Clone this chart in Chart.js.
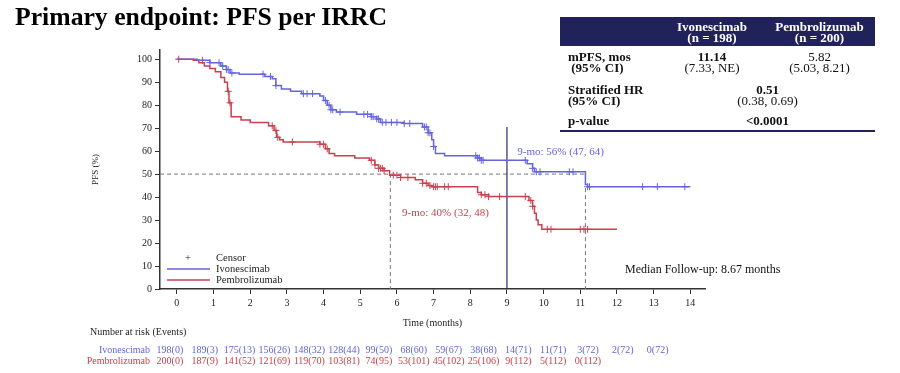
<!DOCTYPE html>
<html>
<head>
<meta charset="utf-8">
<script src="https://cdn.jsdelivr.net/npm/chart.js@4.4.1/dist/chart.umd.min.js"></script>
<style>
    body { margin: 0; background: #fff; font-family: "Liberation Serif", "DejaVu Serif", serif; }
    #wrap { position: relative; width: 900px; height: 373px; overflow: hidden; }
    #pfsChart { position: absolute; left: 0; top: 0; }
    h1 { position: absolute; left: 15px; top: 2px; margin: 0; font-size: 25.7px; font-weight: bold; color: #000; white-space: nowrap; }
    #stats { position: absolute; left: 560px; top: 17px; width: 315px; border-collapse: collapse; font-size: 13px; line-height: 11px; color: #111; table-layout: fixed; }
    #stats th { background: #22225a; color: #fff; font-weight: bold; padding: 4px 0 3px 0; text-align: center; }
    #stats td { padding: 3px 0; vertical-align: top; }
    #stats td.c { text-align: center; }
    #stats tr.last td { border-bottom: 2px solid #22225a; padding-bottom: 4px; }
</style>
</head>
<body>
<div id="wrap">
    <canvas id="pfsChart" width="900" height="373"></canvas>
    <h1>Primary endpoint: PFS per IRRC</h1>
    <table id="stats">
        <tr><th style="width:100px"></th><th style="width:104px">Ivonescimab<br>(n = 198)</th><th style="width:111px">Pembrolizumab<br>(n = 200)</th></tr>
        <tr><td style="padding-left:8px;padding-top:5px"><b>mPFS, mos<br>&nbsp;(95% CI)</b></td><td class="c" style="padding-top:5px"><b>11.14</b><br>(7.33, NE)</td><td class="c" style="padding-top:5px">5.82<br>(5.03, 8.21)</td></tr>
        <tr><td style="padding-left:8px;padding-top:8px"><b>Stratified HR<br>(95% CI)</b></td><td class="c" colspan="2" style="padding-top:8px"><b>0.51</b><br>(0.38, 0.69)</td></tr>
        <tr class="last"><td style="padding-left:8px;padding-top:6px"><b>p-value</b></td><td class="c" colspan="2" style="padding-top:6px"><b>&lt;0.0001</b></td></tr>
    </table>
</div>
<script>
    // Kaplan-Meier steps (time in months, PFS %)
    var ivoTimes = [0, 0.55, 0.9, 1.2, 1.35, 1.45, 1.7, 2.4, 2.6, 2.7, 2.85, 3.1, 3.4, 3.9, 4.0, 4.1, 4.2, 4.35, 4.9, 5.3, 5.45, 5.55, 6.2, 6.7, 6.85, 6.95, 7.0, 7.05, 7.3, 8.2, 8.3, 9.55, 9.7, 9.75, 11.14, 11.2, 14.0];
    var ivoSurv = [100, 99.5, 98.5, 97, 95.5, 94, 93.5, 92.5, 91.5, 88.5, 87, 86, 85, 84, 82, 80, 78, 77, 76, 75, 74, 72.5, 72, 70.5, 68, 65, 62, 59, 58, 57, 56, 54.5, 52.5, 51, 45.5, 44.5, 44.5];
    var pemTimes = [0, 0.45, 0.6, 0.75, 0.9, 1.05, 1.2, 1.3, 1.38, 1.42, 1.48, 1.75, 2.0, 2.5, 2.65, 2.72, 2.8, 2.9, 3.9, 4.05, 4.15, 4.3, 4.85, 5.25, 5.4, 5.5, 5.65, 5.8, 6.1, 6.5, 6.7, 6.85, 6.95, 8.2, 8.3, 8.5, 9.6, 9.7, 9.75, 9.8, 9.85, 9.95, 12.0];
    var pemSurv = [100, 99.5, 98.5, 97, 96, 94.5, 92, 90, 86, 81, 75, 73.5, 72.5, 71, 69, 66, 65, 64, 63, 61, 59, 58, 57, 56, 54, 52.5, 51.5, 49.5, 48.5, 47.5, 46, 45, 44.5, 42, 41, 40.2, 38.5, 36, 33, 30, 28, 26, 26];

    // censor marks (months)
    var ivoCensor = [0.7, 0.9, 1.15, 1.25, 1.35, 1.4, 1.5, 2.35, 2.55, 2.7, 3.45, 3.55, 3.7, 4.05, 4.15, 4.2, 4.25, 4.45, 5.1, 5.2, 5.3, 5.35, 5.45, 5.5, 5.6, 5.7, 5.85, 6.0, 6.2, 6.35, 6.75, 6.8, 6.85, 6.9, 7.0, 8.15, 8.2, 8.25, 8.3, 8.35, 9.5, 9.7, 9.8, 9.9, 10.7, 10.8, 11.2, 11.25, 12.7, 13.1, 13.85];
    var pemCensor = [0.05, 1.4, 1.45, 2.6, 2.7, 2.75, 3.15, 3.9, 4.0, 4.1, 5.3, 5.4, 5.5, 5.55, 5.6, 5.65, 5.9, 6.0, 6.1, 6.3, 6.7, 6.8, 6.9, 7.0, 7.05, 7.1, 7.3, 7.4, 8.3, 8.4, 8.5, 8.8, 9.5, 9.65, 9.7, 10.1, 10.2, 11.0, 11.1, 11.2];

    var xTicks = [0, 1, 2, 3, 4, 5, 6, 7, 8, 9, 10, 11, 12, 13, 14];
    var yTicks = [0, 10, 20, 30, 40, 50, 60, 70, 80, 90, 100];

    // number at risk (events)
    var ivoRisk = ['198(0)', '189(3)', '175(13)', '156(26)', '148(32)', '128(44)', '99(50)', '68(60)', '59(67)', '38(68)', '14(71)', '11(71)', '3(72)', '2(72)', '0(72)'];
    var pemRisk = ['200(0)', '187(9)', '141(52)', '121(69)', '119(70)', '103(81)', '74(95)', '53(101)', '45(102)', '25(106)', '9(112)', '5(112)', '0(112)'];

    var medianIvo = 11.14;
    var medianPem = 5.82;
    var landmark = 9;

    var blue = '#6464dc';
    var red = '#c8414f';
    var serif = '"Liberation Serif", "DejaVu Serif", serif';

    function toPoints(times, vals) {
        var pts = [];
        for (var i = 0; i < times.length; i++) {
            pts.push({ x: times[i], y: vals[i] });
        }
        return pts;
    }

    function survAt(times, vals, t) {
        var v = vals[0];
        for (var i = 0; i < times.length; i++) {
            if (times[i] <= t) { v = vals[i]; }
        }
        return v;
    }

    function censorPoints(cens, times, vals) {
        return cens.map(function (t) { return { x: t, y: survAt(times, vals, t) }; });
    }

    var extrasPlugin = {
        id: 'extras',
        beforeDatasetsDraw: function (chart) {
            var ctx = chart.ctx;
            var xs = chart.scales.x, ys = chart.scales.y;
            ctx.save();
            // median reference lines
            ctx.strokeStyle = '#777';
            ctx.lineWidth = 1;
            ctx.setLineDash([4, 3]);
            ctx.beginPath();
            ctx.moveTo(chart.chartArea.left, ys.getPixelForValue(50));
            ctx.lineTo(xs.getPixelForValue(medianIvo), ys.getPixelForValue(50));
            ctx.moveTo(xs.getPixelForValue(medianPem), ys.getPixelForValue(50));
            ctx.lineTo(xs.getPixelForValue(medianPem), chart.chartArea.bottom);
            ctx.moveTo(xs.getPixelForValue(medianIvo), ys.getPixelForValue(50));
            ctx.lineTo(xs.getPixelForValue(medianIvo), chart.chartArea.bottom);
            ctx.stroke();
            // 9 month landmark
            ctx.setLineDash([]);
            ctx.strokeStyle = '#2b2b6b';
            ctx.lineWidth = 1.2;
            ctx.beginPath();
            ctx.moveTo(xs.getPixelForValue(landmark), ys.getPixelForValue(70.5));
            ctx.lineTo(xs.getPixelForValue(landmark), chart.chartArea.bottom);
            ctx.stroke();
            ctx.restore();
        },
        afterDraw: function (chart) {
            var ctx = chart.ctx;
            var xs = chart.scales.x, ys = chart.scales.y;
            ctx.save();
            ctx.textBaseline = 'middle';

            ctx.font = '11px ' + serif;
            ctx.textAlign = 'left';
            ctx.fillStyle = blue;
            ctx.fillText('9-mo: 56% (47, 64)', xs.getPixelForValue(9.28), ys.getPixelForValue(59.7));
            ctx.fillStyle = red;
            ctx.fillText('9-mo: 40% (32, 48)', xs.getPixelForValue(6.14), ys.getPixelForValue(33.2));

            ctx.font = '12px ' + serif;
            ctx.fillStyle = '#111';
            ctx.fillText('Median Follow-up: 8.67 months', 625, 270);

            // legend
            ctx.font = '10.5px ' + serif;
            ctx.fillStyle = '#222';
            ctx.fillText('+', 185, 258);
            ctx.fillText('Censor', 216, 258);
            ctx.fillText('Ivonescimab', 216, 269);
            ctx.fillText('Pembrolizumab', 216, 280);
            ctx.lineWidth = 1.5;
            ctx.strokeStyle = blue;
            ctx.beginPath(); ctx.moveTo(167, 269); ctx.lineTo(210, 269); ctx.stroke();
            ctx.strokeStyle = red;
            ctx.beginPath(); ctx.moveTo(167, 280); ctx.lineTo(210, 280); ctx.stroke();

            // number at risk
            ctx.font = '10px ' + serif;
            ctx.fillStyle = '#222';
            ctx.fillText('Number at risk (Events)', 90, 332);
            ctx.textAlign = 'right';
            ctx.fillStyle = blue;
            ctx.fillText('Ivonescimab', 150, 350);
            ctx.fillStyle = red;
            ctx.fillText('Pembrolizumab', 150, 361);
            ctx.textAlign = 'center';
            ivoRisk.forEach(function (s, i) {
                ctx.fillStyle = blue;
                ctx.fillText(s, xs.getPixelForValue(0.95 * i - 0.19), 350);
            });
            pemRisk.forEach(function (s, i) {
                ctx.fillStyle = red;
                ctx.fillText(s, xs.getPixelForValue(0.95 * i - 0.19), 361);
            });
            ctx.restore();
        }
    };

    new Chart(document.getElementById('pfsChart'), {
        type: 'line',
        data: {
            datasets: [{
                label: 'Ivonescimab',
                data: toPoints(ivoTimes, ivoSurv),
                borderColor: blue,
                borderWidth: 1.5,
                stepped: 'before',
                pointRadius: 0,
                fill: false
            }, {
                label: 'Pembrolizumab',
                data: toPoints(pemTimes, pemSurv),
                borderColor: red,
                borderWidth: 1.5,
                stepped: 'before',
                pointRadius: 0,
                fill: false
            }, {
                type: 'scatter',
                label: 'Censor Ivonescimab',
                data: censorPoints(ivoCensor, ivoTimes, ivoSurv),
                borderColor: blue,
                pointStyle: 'cross',
                pointRadius: 3.5,
                pointBorderWidth: 1,
                showLine: false
            }, {
                type: 'scatter',
                label: 'Censor Pembrolizumab',
                data: censorPoints(pemCensor, pemTimes, pemSurv),
                borderColor: red,
                pointStyle: 'cross',
                pointRadius: 3.5,
                pointBorderWidth: 1,
                showLine: false
            }]
        },
        options: {
            responsive: false,
            animation: false,
            layout: { padding: { left: 90, right: 195, top: 50, bottom: 44 } },
            plugins: {
                legend: { display: false },
                tooltip: { enabled: false }
            },
            scales: {
                x: {
                    type: 'linear',
                    min: -0.46,
                    max: 14.4,
                    afterBuildTicks: function (s) { s.ticks = xTicks.map(function (v) { return { value: v }; }); },
                    afterFit: function (s) { s.height = 40; },
                    grid: { drawOnChartArea: false, tickLength: 5, color: '#333' },
                    border: { color: '#333', width: 1.5 },
                    ticks: { color: '#222', font: { family: serif, size: 10 }, padding: 3, maxRotation: 0 },
                    title: { display: true, text: 'Time (months)', color: '#222', font: { family: serif, size: 10 }, padding: { top: 2, bottom: 0 } }
                },
                y: {
                    min: 0,
                    max: 104,
                    afterBuildTicks: function (s) { s.ticks = yTicks.map(function (v) { return { value: v }; }); },
                    afterFit: function (s) { s.width = 70; },
                    grid: { drawOnChartArea: false, tickLength: 5, color: '#333' },
                    border: { color: '#333', width: 1.5 },
                    ticks: { color: '#222', font: { family: serif, size: 10 }, padding: 3 },
                    title: { display: true, text: 'PFS (%)', color: '#222', font: { family: serif, size: 9 }, padding: 0 }
                }
            }
        },
        plugins: [extrasPlugin]
    });
</script>
</body>
</html>
